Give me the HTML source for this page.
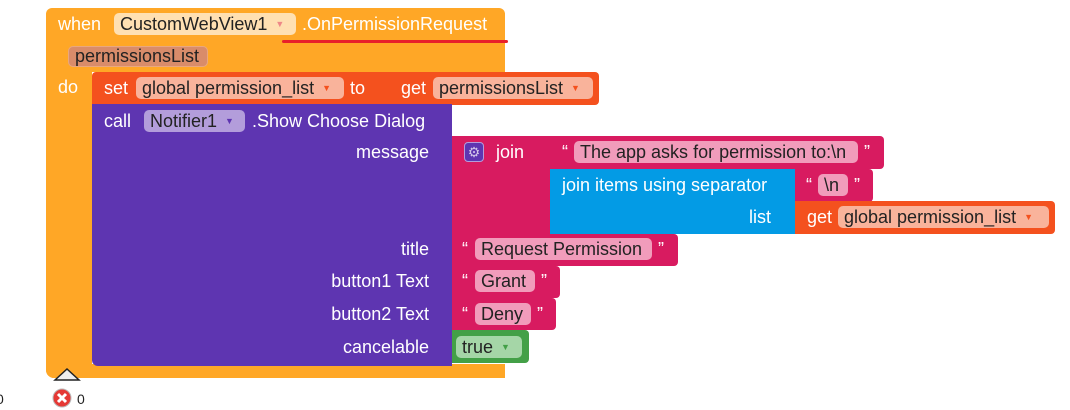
<!DOCTYPE html>
<html><head><style>
body{margin:0;width:1070px;height:409px;background:#fff;position:relative;overflow:hidden;font-family:"Liberation Sans",sans-serif;font-size:18px}
.b{position:absolute;box-sizing:border-box}
.t{position:absolute;color:#fff;white-space:nowrap;line-height:22px}
.c{position:absolute;border-radius:5px;color:#222;white-space:nowrap;line-height:22px;padding:0 6px;box-sizing:border-box;overflow:hidden}
.dd{font-size:9px;margin-left:8px;vertical-align:3px}
</style></head><body>
<div class="b" style="left:46px;top:8px;width:459px;height:64px;background:#ffa726;border-radius:6px 6px 0 0"></div>
<div class="b" style="left:46px;top:70px;width:46px;height:308px;background:#ffa726;border-radius:0 0 0 8px"></div>
<div class="b" style="left:46px;top:364px;width:459px;height:14px;background:#ffa726;border-radius:0 0 0 8px"></div>
<div class="t" style="left:58px;top:13px">when</div>
<div class="c" style="left:114px;top:13px;width:182px;height:22px;background:#ffe0b2">CustomWebView1<span class="dd" style="color:#e88">▼</span></div>
<div class="t" style="left:302px;top:13px">.OnPermissionRequest</div>
<div class="b" style="left:282px;top:40px;width:226px;height:3px;background:#e8202a;border-radius:2px"></div>
<div class="c" style="left:68px;top:46px;width:140px;height:21px;background:#d98c6a;border:1px solid #e9a77f;line-height:19px">permissionsList</div>
<div class="t" style="left:58px;top:76px">do</div>
<div class="b" style="left:92px;top:72px;width:296px;height:33px;background:#f4511e;border-radius:4px 0 0 0"></div>
<div class="t" style="left:104px;top:77px">set</div>
<div class="c" style="left:136px;top:77px;width:208px;height:22px;background:#f9b39b">global permission_list<span class="dd" style="color:#f4511e">▼</span></div>
<div class="t" style="left:350px;top:77px">to</div>
<div class="b" style="left:388px;top:72px;width:211px;height:33px;background:#f4511e;border-radius:0 4px 4px 0"></div>
<div class="t" style="left:401px;top:77px">get</div>
<div class="c" style="left:433px;top:77px;width:160px;height:22px;background:#f9b39b">permissionsList<span class="dd" style="color:#f4511e">▼</span></div>
<div class="b" style="left:92px;top:104px;width:360px;height:262px;background:#5e35b1;border-radius:0 0 0 6px"></div>
<div class="t" style="left:104px;top:110px">call</div>
<div class="c" style="left:144px;top:110px;width:101px;height:22px;background:#b39ddb">Notifier1<span class="dd" style="color:#5e35b1">▼</span></div>
<div class="t" style="left:252px;top:110px">.Show Choose Dialog</div>
<div class="t" style="right:641px;top:141px">message</div>
<div class="t" style="right:641px;top:238px">title</div>
<div class="t" style="right:641px;top:270px">button1 Text</div>
<div class="t" style="right:641px;top:303px">button2 Text</div>
<div class="t" style="right:641px;top:336px">cancelable</div>
<div class="b" style="left:452px;top:136px;width:98px;height:98px;background:#d81b60"></div>
<div class="b" style="left:464px;top:142px;width:20px;height:20px;background:#5e35b1;border-radius:4px;border:1px solid #b39ddb;color:#d1c4e9;font-size:14px;text-align:center;line-height:18px">⚙</div>
<div class="t" style="left:496px;top:141px">join</div>
<div class="b" style="left:550px;top:136px;width:334px;height:33px;background:#d81b60;border-radius:0 4px 4px 0"></div>
<div class="t" style="left:562px;top:141px">“</div>
<div class="c" style="left:574px;top:141px;width:284px;height:22px;background:#f19cbb">The app asks for permission to:\n</div>
<div class="t" style="left:864px;top:141px">”</div>
<div class="b" style="left:550px;top:169px;width:245px;height:65px;background:#039be5"></div>
<div class="t" style="left:562px;top:174px">join items using separator</div>
<div class="t" style="left:749px;top:206px">list</div>
<div class="b" style="left:795px;top:169px;width:78px;height:33px;background:#d81b60;border-radius:0 4px 4px 0"></div>
<div class="t" style="left:806px;top:174px">“</div>
<div class="c" style="left:818px;top:174px;width:30px;height:22px;background:#f19cbb">\n</div>
<div class="t" style="left:854px;top:174px">”</div>
<div class="b" style="left:795px;top:201px;width:260px;height:33px;background:#f4511e;border-radius:0 4px 4px 0"></div>
<div class="t" style="left:807px;top:206px">get</div>
<div class="c" style="left:838px;top:206px;width:211px;height:22px;background:#f9b39b">global permission_list<span class="dd" style="color:#f4511e">▼</span></div>
<div class="b" style="left:452px;top:234px;width:226px;height:32px;background:#d81b60;border-radius:0 4px 4px 0"></div>
<div class="t" style="left:462px;top:238px">“</div>
<div class="c" style="left:475px;top:238px;width:177px;height:22px;background:#f19cbb">Request Permission</div>
<div class="t" style="left:658px;top:238px">”</div>
<div class="b" style="left:452px;top:266px;width:108px;height:32px;background:#d81b60;border-radius:0 4px 4px 0"></div>
<div class="t" style="left:462px;top:270px">“</div>
<div class="c" style="left:475px;top:270px;width:60px;height:22px;background:#f19cbb">Grant</div>
<div class="t" style="left:541px;top:270px">”</div>
<div class="b" style="left:452px;top:298px;width:104px;height:32px;background:#d81b60;border-radius:0 4px 4px 0"></div>
<div class="t" style="left:462px;top:303px">“</div>
<div class="c" style="left:475px;top:303px;width:56px;height:22px;background:#f19cbb">Deny</div>
<div class="t" style="left:537px;top:303px">”</div>
<div class="b" style="left:452px;top:330px;width:77px;height:33px;background:#43a047;border-radius:0 4px 4px 0"></div>
<div class="c" style="left:456px;top:336px;width:66px;height:22px;background:#a5d6a7">true<span class="dd" style="color:#43a047">▼</span></div>
<svg class="b" style="left:52px;top:366px" width="30" height="16"><polygon points="3,14 15,3 27,14" fill="#eee" stroke="#222" stroke-width="1.5"/></svg>
<svg class="b" style="left:52px;top:388px" width="22" height="22"><circle cx="10" cy="10" r="9" fill="#e53935" stroke="#bbb"/><path d="M6 6L14 14M14 6L6 14" stroke="#fff" stroke-width="3"/></svg>
<div class="b" style="left:77px;top:391px;font-size:14px;color:#222">0</div>
<div class="b" style="left:-4px;top:391px;font-size:14px;color:#222">0</div>
</body></html>
